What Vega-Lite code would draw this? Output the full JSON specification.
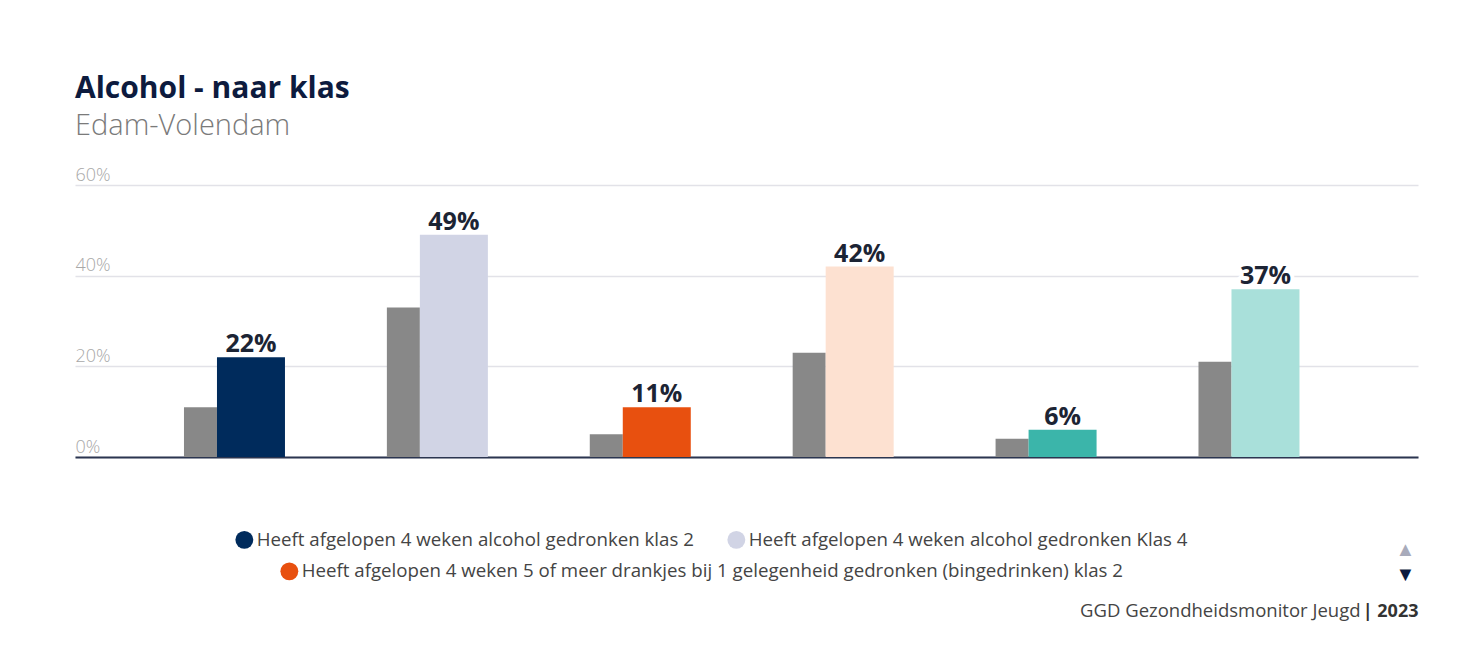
{
  "$schema": "https://vega.github.io/schema/vega-lite/v6.json",
  "width": 1343,
  "height": 272,
  "autosize": {"type": "none"},
  "padding": {"left": 75, "top": 185, "right": 50, "bottom": 199},
  "background": "white",
  "title": {
    "text": "Alcohol - naar klas",
    "subtitle": "Edam-Volendam",
    "anchor": "start",
    "frame": "group",
    "font": "Open Sans",
    "fontSize": 30,
    "fontWeight": "bold",
    "color": "#0d1b3e",
    "subtitleFont": "Open Sans",
    "subtitleFontSize": 29,
    "subtitleFontWeight": 300,
    "subtitleColor": "#7a7a7a",
    "subtitlePadding": 8,
    "offset": 25
  },
  "data": {
    "values": [
      {"label": "Heeft afgelopen 4 weken alcohol gedronken klas 2", "value": 22, "ref": 11, "txt": "22%"},
      {"label": "Heeft afgelopen 4 weken alcohol gedronken Klas 4", "value": 49, "ref": 33, "txt": "49%"},
      {"label": "Heeft afgelopen 4 weken 5 of meer drankjes bij 1 gelegenheid gedronken (bingedrinken) klas 2", "value": 11, "ref": 5, "txt": "11%"},
      {"label": "Heeft afgelopen 4 weken 5 of meer drankjes bij 1 gelegenheid gedronken (bingedrinken) klas 4", "value": 42, "ref": 23, "txt": "42%"},
      {"label": "Is afgelopen 4 weken dronken of aangeschoten geweest klas 2", "value": 6, "ref": 4, "txt": "6%"},
      {"label": "Is afgelopen 4 weken dronken of aangeschoten geweest klas 4", "value": 37, "ref": 21, "txt": "37%"}
    ]
  },
  "encoding": {
    "x": {
      "field": "label",
      "type": "nominal",
      "sort": null,
      "scale": {"paddingInner": 0, "paddingOuter": 0.3095, "align": 0.462}
    }
  },
  "layer": [
    {
      "mark": {"type": "bar", "color": "#888888", "width": 33, "xOffset": -34},
      "encoding": {
        "x": {
          "field": "label", "type": "nominal", "sort": null,
          "axis": {"orient": "bottom", "domain": false, "labels": false, "ticks": false, "grid": false,
            "title": "| 2023", "titleFont": "Open Sans", "titleFontSize": 18, "titleFontWeight": "bold", "titleColor": "#333333",
            "titleAlign": "right", "titleAnchor": null, "titleX": 1343, "titleY": 159, "titleBaseline": "alphabetic"}
        },
        "y": {
          "field": "ref", "type": "quantitative",
          "scale": {"domain": [0, 60]},
          "axis": {"orient": "right", "domain": false, "labels": false, "ticks": false, "grid": false,
            "title": "▼", "titleAngle": 0, "titleFontSize": 20, "titleColor": "#0d1b3e", "titleFontWeight": "normal",
            "titleAlign": "center", "titleBaseline": "middle", "titleX": -13, "titleY": 389}
        }
      }
    },
    {
      "mark": {"type": "bar", "width": 68, "xOffset": 16.5, "strokeWidth": 0},
      "encoding": {
        "x": {
          "field": "label", "type": "nominal", "sort": null,
          "axis": {"orient": "bottom", "domain": true, "domainColor": "#2b3550", "domainWidth": 2, "labels": false, "ticks": false, "grid": false,
            "title": "GGD Gezondheidsmonitor Jeugd", "titleFont": "Open Sans", "titleFontSize": 18.5, "titleFontWeight": "normal", "titleColor": "#444444",
            "titleAlign": "right", "titleAnchor": null, "titleX": 1285, "titleY": 159, "titleBaseline": "alphabetic"}
        },
        "y": {
          "field": "value", "type": "quantitative",
          "scale": {"domain": [0, 60]},
          "axis": {"orient": "left", "values": [0, 20, 40, 60], "labelExpr": "datum.value + '%'",
            "domain": false, "ticks": false, "tickSize": 0, "labelPadding": 0, "labelAlign": "left", "labelBaseline": "alphabetic", "labelOffset": -5,
            "labelFont": "Open Sans", "labelFontSize": 18, "labelFontWeight": 300, "labelColor": "#a8a8a8",
            "grid": true, "gridColor": "#e2e2e8", "gridWidth": 1.5,
            "title": "▲", "titleAngle": 0, "titleFontSize": 20, "titleColor": "#a8abbb", "titleFontWeight": "normal",
            "titleAlign": "center", "titleBaseline": "middle", "titleX": 1330, "titleY": 364}
        },
        "fill": {
          "field": "label", "type": "nominal",
          "scale": {
            "domain": [
              "Heeft afgelopen 4 weken alcohol gedronken klas 2",
              "Heeft afgelopen 4 weken alcohol gedronken Klas 4",
              "Heeft afgelopen 4 weken 5 of meer drankjes bij 1 gelegenheid gedronken (bingedrinken) klas 2",
              "Heeft afgelopen 4 weken 5 of meer drankjes bij 1 gelegenheid gedronken (bingedrinken) klas 4",
              "Is afgelopen 4 weken dronken of aangeschoten geweest klas 2",
              "Is afgelopen 4 weken dronken of aangeschoten geweest klas 4"
            ],
            "range": ["#002b5c", "#d1d4e5", "#e8500f", "#fde1d1", "#3bb5aa", "#a9e0da"]
          },
          "legend": {
            "values": ["Heeft afgelopen 4 weken alcohol gedronken klas 2", "Heeft afgelopen 4 weken alcohol gedronken Klas 4"],
            "orient": "none", "legendX": 160, "legendY": 345, "direction": "horizontal", "title": null,
            "symbolType": "circle", "symbolSize": 320, "symbolStrokeWidth": 0, "labelFont": "Open Sans", "labelFontSize": 18.7, "labelColor": "#444444",
            "labelOffset": 3, "columnPadding": 33, "labelLimit": 900, "padding": 0
          }
        },
        "stroke": {
          "field": "label", "type": "nominal",
          "scale": {
            "domain": [
              "Heeft afgelopen 4 weken 5 of meer drankjes bij 1 gelegenheid gedronken (bingedrinken) klas 2",
              "Heeft afgelopen 4 weken alcohol gedronken klas 2",
              "Heeft afgelopen 4 weken alcohol gedronken Klas 4",
              "Heeft afgelopen 4 weken 5 of meer drankjes bij 1 gelegenheid gedronken (bingedrinken) klas 4",
              "Is afgelopen 4 weken dronken of aangeschoten geweest klas 2",
              "Is afgelopen 4 weken dronken of aangeschoten geweest klas 4"
            ],
            "range": ["#e8500f", "#002b5c", "#d1d4e5", "#fde1d1", "#3bb5aa", "#a9e0da"]
          },
          "legend": {
            "values": ["Heeft afgelopen 4 weken 5 of meer drankjes bij 1 gelegenheid gedronken (bingedrinken) klas 2"],
            "orient": "none", "legendX": 205, "legendY": 377, "direction": "horizontal", "title": null,
            "symbolType": "circle", "symbolSize": 320, "symbolStrokeWidth": 0, "symbolFillColor": "#e8500f",
            "labelFont": "Open Sans", "labelFontSize": 18.7, "labelColor": "#444444",
            "labelOffset": 3, "labelLimit": 900, "padding": 0
          }
        }
      }
    },
    {
      "mark": {"type": "text", "xOffset": 16.5, "dy": -5, "baseline": "alphabetic", "font": "Open Sans", "fontSize": 25, "fontWeight": "bold", "stroke": "white", "strokeWidth": 8, "strokeJoin": "round", "fill": "white"},
      "encoding": {
        "x": {"field": "label", "type": "nominal", "sort": null, "axis": null},
        "y": {"field": "value", "type": "quantitative", "scale": {"domain": [0, 60]}, "axis": null},
        "text": {"field": "txt"}
      }
    },
    {
      "mark": {"type": "text", "xOffset": 16.5, "dy": -5, "baseline": "alphabetic", "font": "Open Sans", "fontSize": 25, "fontWeight": "bold", "color": "#1c2434"},
      "encoding": {
        "x": {"field": "label", "type": "nominal", "sort": null, "axis": null},
        "y": {"field": "value", "type": "quantitative", "scale": {"domain": [0, 60]}, "axis": null},
        "text": {"field": "txt"}
      }
    }
  ],
  "resolve": {"axis": {"x": "independent", "y": "independent"}},
  "config": {"view": {"stroke": null}}
}
